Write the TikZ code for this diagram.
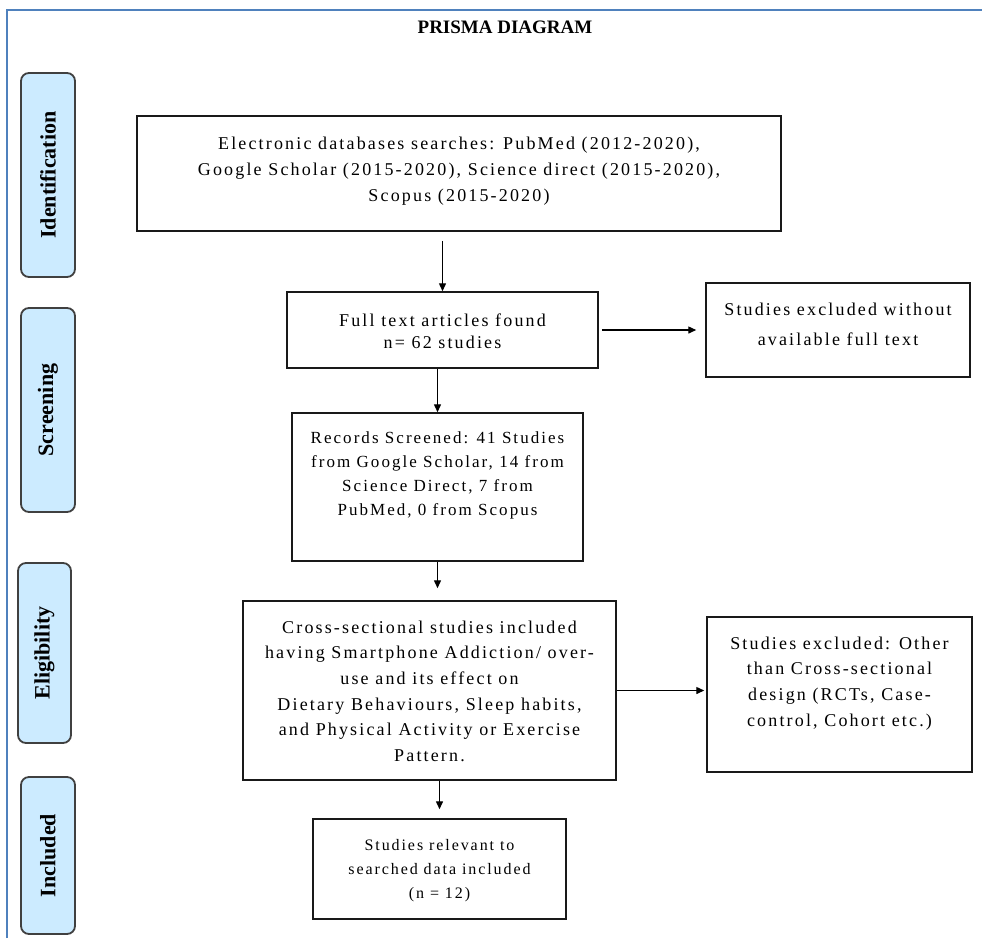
\documentclass[tikz,border=0pt]{standalone}
\usepackage{fontspec}
\setmainfont{Liberation Serif}
\newfontfamily\spacedfont[LetterSpace=12]{Liberation Serif}
\usetikzlibrary{arrows.meta}
\definecolor{sidefill}{HTML}{CCEBFF}
\definecolor{frameblue}{HTML}{4F81BD}
\definecolor{sideedge}{HTML}{404040}
% #1 height, #2 width, #3 first baseline, #4 font size, #5 line skip, #6 text
\newcommand{\boxcontent}[6]{\parbox[c][#1][t]{#2}{\fontsize{#4}{#5}\selectfont\centering\rule{0pt}{#3}#6\par}}
\tikzset{
  mainbox/.style={draw=black!90, line width=1.5pt, inner sep=0pt, font=\spacedfont},
  sidebox/.style={draw=sideedge, fill=sidefill, line width=1.8pt, rounded corners=8pt,
    rotate=90, inner sep=0pt, font=\bfseries\fontsize{22}{24}\selectfont},
  arr/.style={-{Triangle[length=8pt,width=7pt]}, line width=1.4pt, black},
  frameline/.style={draw=frameblue, line width=2pt},
}
\begin{document}
\begin{tikzpicture}[x=1pt,y=-1pt]
\fill[white] (0,0) rectangle (982,938);
\useasboundingbox (0,0) rectangle (982,938);
% frame
\draw[frameline] (7,938) -- (7,10) -- (982,10);
% title
\node[font=\bfseries\fontsize{19}{22}\selectfont] (title) at (505,27) {PRISMA DIAGRAM};
% side labels
\node[sidebox, minimum width=204pt, minimum height=54pt] (s1) at (48,175) {Identification};
\node[sidebox, minimum width=204pt, minimum height=54pt] (s2) at (48,410) {Screening};
\node[sidebox, minimum width=180pt, minimum height=53pt] (s3) at (44.5,653) {Eligibility};
\node[sidebox, minimum width=157pt, minimum height=54pt] (s4) at (48,855.5) {Included};
% main boxes
\node[mainbox, minimum width=644pt] (b1) at (459,173.5)
  {\boxcontent{115pt}{640pt}{33pt}{18}{26}{Electronic databases searches: PubMed (2012-2020),\\
   Google Scholar (2015-2020), Science direct (2015-2020),\\ Scopus (2015-2020)}};
\node[mainbox, minimum width=311pt] (b2) at (442.5,330)
  {\boxcontent{76pt}{307pt}{34pt}{18}{22}{Full text articles found\\ n= 62 studies}};
\node[mainbox, minimum width=264pt] (b3) at (838,330)
  {\boxcontent{94pt}{260pt}{32pt}{18}{30}{Studies excluded without\\ available full text}};
\node[mainbox, minimum width=291pt] (b4) at (437.5,487)
  {\boxcontent{148pt}{287pt}{30pt}{17}{24}{Records Screened: 41 Studies\\ from Google Scholar, 14 from\\
   Science Direct, 7 from\\ PubMed, 0 from Scopus}};
\node[mainbox, minimum width=373pt] (b5) at (429.5,690.5)
  {\boxcontent{179pt}{369pt}{32pt}{18}{25.7}{Cross-sectional studies included\\ having Smartphone Addiction/ over-\\
   use and its effect on\\ Dietary Behaviours, Sleep habits,\\ and Physical Activity or Exercise\\ Pattern.}};
\node[mainbox, minimum width=265pt] (b6) at (839.5,694.5)
  {\boxcontent{155pt}{261pt}{32pt}{18}{25.7}{Studies excluded: Other\\ than Cross-sectional\\
   design (RCTs, Case-\\ control, Cohort etc.)}};
\node[mainbox, minimum width=253pt] (b7) at (439.5,869)
  {\boxcontent{100pt}{249pt}{31pt}{16}{24}{Studies relevant to\\ searched data included\\ (n = 12)}};
% connectors
\draw[arr, shorten <=9pt] (b2.north |- b1.south) -- (b2.north);
\draw[arr, shorten <=3pt, shorten >=9pt] (b2.east) -- (b2.east -| b3.west);
\draw[arr] (b4.north |- b2.south) -- (b4.north);
\draw[arr, shorten >=12pt] (b4.south) -- (b4.south |- b5.north);
\draw[arr, shorten >=2pt] (b5.east) -- (b5.east -| b6.west);
\draw[arr, shorten >=9pt] (b7.north |- b5.south) -- (b7.north);
\end{tikzpicture}
\end{document}
